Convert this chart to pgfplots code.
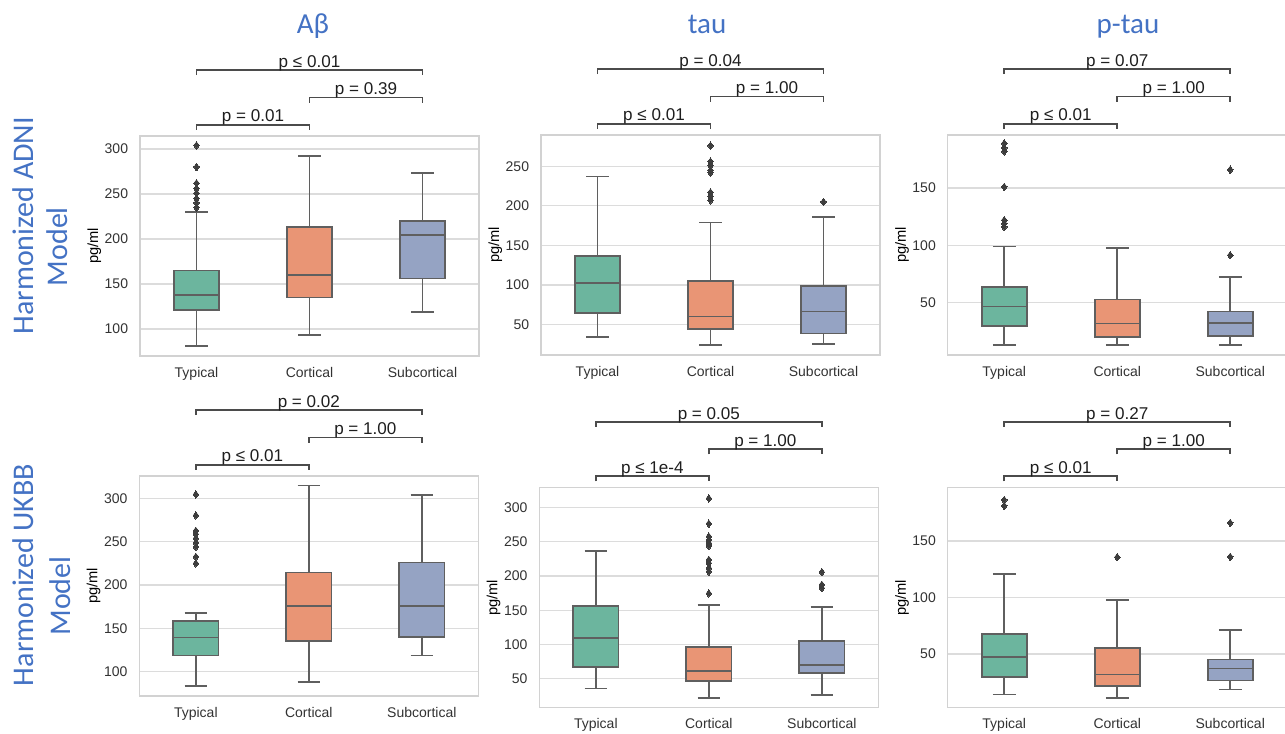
\documentclass[border=0pt]{standalone}
\usepackage{fontspec}
\setmainfont{Liberation Sans}
\newfontfamily\titlefont{Carlito}
\usepackage{pgfplots}
\pgfplotsset{compat=1.18}
\usepgfplotslibrary{statistics}
\definecolor{cT}{RGB}{108,181,158}
\definecolor{cC}{RGB}{233,149,117}
\definecolor{cS}{RGB}{149,163,195}
\definecolor{edge}{RGB}{95,95,95}
\definecolor{outl}{RGB}{61,61,61}
\definecolor{gridc}{RGB}{220,220,220}
\definecolor{framec}{RGB}{210,210,210}
\definecolor{tickc}{RGB}{50,50,50}
\definecolor{ptc}{RGB}{30,30,30}
\definecolor{brc}{RGB}{75,75,75}
\definecolor{titleblue}{RGB}{68,114,196}

\pgfplotsset{
  panel/.style={
    scale only axis, width=254.25pt, height=165pt, anchor=north west,
    xmin=-0.5, xmax=2.5, xtick={0,1,2}, xticklabels={Typical,Cortical,Subcortical},
    ymajorgrids, grid style={gridc, line width=1pt},
    axis line style={framec, line width=1.1pt},
    major tick length=0pt, minor tick num=0,
    tick label style={font=\fontsize{10.5}{12}\selectfont, text=tickc, inner sep=0pt},
    yticklabel style={xshift=-8.75pt},
    xticklabel style={yshift=-8pt},
    /pgf/number format/assume math mode=true,
    ylabel={pg/ml},
    ylabel style={at={(axis description cs:-0.135,0.5)}, anchor=center, font=\fontsize{11}{12}\selectfont, text=black},
    clip=false,
  },
  boxstyle/.style={
    draw=edge, line width=1.35pt, solid,
    boxplot/draw direction=y,
    boxplot/box extend=0.4,
    boxplot/whisker extend=0.2,
    boxplot/every box/.style={fill=#1, draw=edge, line width=1.35pt},
    boxplot/every whisker/.style={draw=edge, line width=1.35pt},
    boxplot/every median/.style={draw=edge, line width=1.35pt},
    mark=diamond*, mark size=2.8pt, mark options={fill=outl, draw=outl, line width=0pt, solid},
  },
}
\tikzset{
  brk/.style={draw=brc, line width=1.45pt},
  ptext/.style={anchor=base, yshift=2pt, inner sep=0pt, font=\fontsize{12.8}{14}\selectfont, text=ptc},
  rowlab/.style={rotate=90, anchor=base, inner sep=0pt, font=\titlefont\fontsize{22.5}{26}\selectfont, text=titleblue},
  coltitle/.style={anchor=base, inner sep=0pt, font=\titlefont\fontsize{21.75}{24}\selectfont, text=titleblue},
}
\newcommand\brackets[3]{%
 \draw[brk] (rel axis cs:0.16667,1.029) -- (rel axis cs:0.16667,1.052) -- (rel axis cs:0.5,1.052) -- (rel axis cs:0.5,1.029);
 \node[ptext] at (rel axis cs:0.33333,1.052) {#1};
 \draw[brk] (rel axis cs:0.5,1.152) -- (rel axis cs:0.5,1.175) -- (rel axis cs:0.83333,1.175) -- (rel axis cs:0.83333,1.152);
 \node[ptext] at (rel axis cs:0.66667,1.175) {#2};
 \draw[brk] (rel axis cs:0.16667,1.277) -- (rel axis cs:0.16667,1.300) -- (rel axis cs:0.83333,1.300) -- (rel axis cs:0.83333,1.277);
 \node[ptext] at (rel axis cs:0.5,1.300) {#3};
}

\begin{document}
\begin{tikzpicture}
% ---------------- Panel 1: Abeta, ADNI ----------------
\begin{axis}[panel, at={(105pt,-102pt)}, ymin=70, ymax=314.4, ytick={100,150,200,250,300}]
\addplot[boxstyle=cT, boxplot prepared={draw position=0, lower whisker=81, lower quartile=121, median=138, upper quartile=165, upper whisker=230}]
  coordinates {(0,304) (0,280) (0,262) (0,256) (0,251) (0,245) (0,240) (0,235)};
\addplot[boxstyle=cC, boxplot prepared={draw position=1, lower whisker=93, lower quartile=135, median=160, upper quartile=213, upper whisker=292}]
  coordinates {};
\addplot[boxstyle=cS, boxplot prepared={draw position=2, lower whisker=118.5, lower quartile=156, median=204, upper quartile=220, upper whisker=273}]
  coordinates {};
\brackets{p = 0.01}{p = 0.39}{p ≤ 0.01}
\end{axis}
% ---------------- Panel 2: tau, ADNI ----------------
\begin{axis}[panel, at={(405.75pt,-101.25pt)}, ymin=11.4, ymax=289.5, ytick={50,100,150,200,250}]
\addplot[boxstyle=cT, boxplot prepared={draw position=0, lower whisker=34.5, lower quartile=65, median=102, upper quartile=137, upper whisker=237}]
  coordinates {};
\addplot[boxstyle=cC, boxplot prepared={draw position=1, lower whisker=24.5, lower quartile=44.6, median=60, upper quartile=104.5, upper whisker=179}]
  coordinates {(1,276) (1,256) (1,251) (1,245) (1,242) (1,217) (1,212) (1,207)};
\addplot[boxstyle=cS, boxplot prepared={draw position=2, lower whisker=25.6, lower quartile=38.6, median=66.4, upper quartile=98.5, upper whisker=185.6}]
  coordinates {(2,205)};
\brackets{p ≤ 0.01}{p = 1.00}{p = 0.04}
\end{axis}
% ---------------- Panel 3: p-tau, ADNI ----------------
\begin{axis}[panel, at={(710.8pt,-101.25pt)}, ymin=4.2, ymax=196.3, ytick={50,100,150}]
\addplot[boxstyle=cT, boxplot prepared={draw position=0, lower whisker=12.9, lower quartile=29.7, median=46.5, upper quartile=63.6, upper whisker=99}]
  coordinates {(0,189) (0,185) (0,182) (0,151) (0,122) (0,119) (0,116)};
\addplot[boxstyle=cC, boxplot prepared={draw position=1, lower whisker=12.9, lower quartile=20.1, median=31.7, upper quartile=52.6, upper whisker=97.8}]
  coordinates {};
\addplot[boxstyle=cS, boxplot prepared={draw position=2, lower whisker=13.1, lower quartile=21, median=32, upper quartile=42.2, upper whisker=72.6}]
  coordinates {(2,166) (2,91.4)};
\brackets{p ≤ 0.01}{p = 1.00}{p = 0.07}
\end{axis}
% ---------------- Panel 4: Abeta, UKBB ----------------
\begin{axis}[panel, at={(104.5pt,-357pt)}, ymin=71.8, ymax=325.8, ytick={100,150,200,250,300}]
\addplot[boxstyle=cT, boxplot prepared={draw position=0, lower whisker=83.4, lower quartile=118.5, median=139.3, upper quartile=158.2, upper whisker=167.4}]
  coordinates {(0,304.6) (0,280.3) (0,262.5) (0,258.7) (0,253.8) (0,248.7) (0,244) (0,232.5) (0,224.9)};
\addplot[boxstyle=cC, boxplot prepared={draw position=1, lower whisker=87.6, lower quartile=135, median=175.9, upper quartile=214.5, upper whisker=314.8}]
  coordinates {};
\addplot[boxstyle=cS, boxplot prepared={draw position=2, lower whisker=118.5, lower quartile=139.7, median=175.9, upper quartile=226, upper whisker=303.8}]
  coordinates {};
\brackets{p ≤ 0.01}{p = 1.00}{p = 0.02}
\end{axis}
% ---------------- Panel 5: tau, UKBB ----------------
\begin{axis}[panel, at={(404.5pt,-365.8pt)}, ymin=7.8, ymax=328.5, ytick={50,100,150,200,250,300}]
\addplot[boxstyle=cT, boxplot prepared={draw position=0, lower whisker=35.9, lower quartile=67.4, median=109.6, upper quartile=156.5, upper whisker=236.5}]
  coordinates {};
\addplot[boxstyle=cC, boxplot prepared={draw position=1, lower whisker=22.4, lower quartile=46.5, median=61, upper quartile=96.5, upper whisker=157}]
  coordinates {(1,313) (1,276.2) (1,257.3) (1,252.5) (1,247.7) (1,243.8) (1,223.4) (1,218.6) (1,211.3) (1,206.4) (1,174.4)};
\addplot[boxstyle=cS, boxplot prepared={draw position=2, lower whisker=26.2, lower quartile=58.7, median=69.8, upper quartile=104.7, upper whisker=155.1}]
  coordinates {(2,205.5) (2,187.1) (2,182.3)};
\brackets{p ≤ 1e-4}{p = 1.00}{p = 0.05}
\end{axis}
% ---------------- Panel 6: p-tau, UKBB ----------------
\begin{axis}[panel, at={(710.8pt,-365.8pt)}, ymin=2.3, ymax=197, ytick={50,100,150}]
\addplot[boxstyle=cT, boxplot prepared={draw position=0, lower whisker=14.1, lower quartile=29.3, median=47.4, upper quartile=67.6, upper whisker=120.6}]
  coordinates {(0,186.2) (0,181)};
\addplot[boxstyle=cC, boxplot prepared={draw position=1, lower whisker=11.2, lower quartile=21.4, median=31.7, upper quartile=55.3, upper whisker=97.3}]
  coordinates {(1,135.6)};
\addplot[boxstyle=cS, boxplot prepared={draw position=2, lower whisker=18.5, lower quartile=26.4, median=37, upper quartile=45, upper whisker=71.4}]
  coordinates {(2,165.9) (2,135.9)};
\brackets{p ≤ 0.01}{p = 1.00}{p = 0.27}
\end{axis}
% ---------------- Titles and row labels ----------------
\node[coltitle] at (234.75pt,-25pt) {Aβ};
\node[coltitle] at (530.25pt,-25pt) {tau};
\node[coltitle] at (846pt,-25pt) {p-tau};
\node[rowlab] at (24.75pt,-169.3pt) {Harmonized ADNI};
\node[rowlab] at (50.25pt,-185pt) {Model};
\node[rowlab] at (24.75pt,-431.25pt) {Harmonized UKBB};
\node[rowlab] at (52.5pt,-447pt) {Model};
\pgfresetboundingbox
\useasboundingbox (0pt,0pt) rectangle (963.75pt,-549.75pt);
\end{tikzpicture}
\end{document}
